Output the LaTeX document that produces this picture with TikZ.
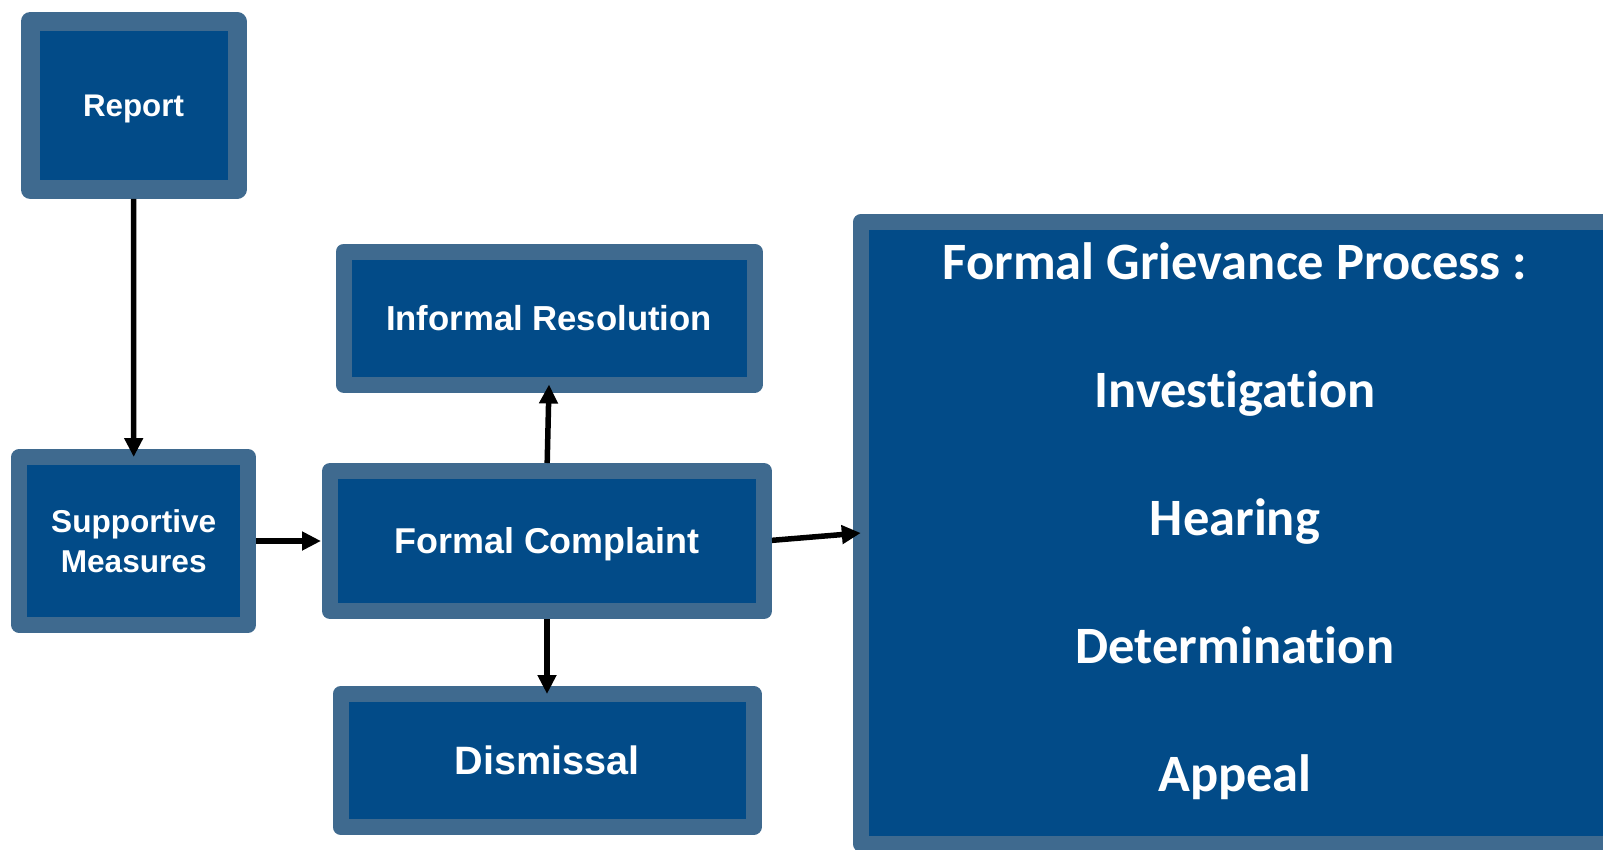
\documentclass[tikz,border=0pt]{standalone}
\usepackage{fontspec}
\setmainfont{Liberation Sans}
\newfontfamily\calibri[Ligatures=NoCommon]{Carlito}
\usetikzlibrary{arrows.meta}
\definecolor{bordo}{HTML}{3F6A8F}
\definecolor{blu}{HTML}{024B88}

\begin{document}
\begin{tikzpicture}[x=1pt,y=-1pt,
        box/.style={draw=bordo, fill=blu, line width=16pt, line join=round,
            inner sep=0pt, outer sep=0pt, text=white, align=center},
        fase/.style={text=white, anchor=base, inner sep=0pt,
            font=\calibri\bfseries\fontsize{52.5}{60}\selectfont},
        freccia/.style={line width=5.5pt, -{Triangle[length=19pt,width=18pt]}}]
            \useasboundingbox (0,0) rectangle (1603,849);
            \clip (0,0) rectangle (1603,849);
            \node[box, line width=19pt, minimum width=207pt, minimum height=168pt,
                font=\bfseries\fontsize{31.3}{38}\selectfont, text height=22.4pt, text depth=0pt]
                (rep) at (133.5,105.4) {Report};
            \node[box, minimum width=228.5pt, minimum height=168pt,
                font=\bfseries\fontsize{31.6}{39.7}\selectfont]
                (sup) at (133.7,541) {Supportive\\Measures};
            \node[box, minimum width=411pt, minimum height=133pt,
                font=\bfseries\fontsize{34.7}{42}\selectfont, text height=24.8pt, text depth=0pt]
                (inf) at (549,318) {Informal Resolution};
            \node[box, minimum width=434pt, minimum height=140pt,
                font=\bfseries\fontsize{35.9}{43}\selectfont, text height=25.7pt, text depth=0pt]
                (fc) at (547,541) {Formal Complaint};
            \node[box, minimum width=413pt, minimum height=133pt,
                font=\bfseries\fontsize{39.6}{47}\selectfont, text height=28.3pt, text depth=0pt]
                (dis) at (547,760.5) {Dismissal};
            \node[box, minimum width=764pt, minimum height=622pt] (fgp) at (1242.8,533) {};
            \foreach \t/\y [count=\i] in {Formal Grievance Process :/279.4, Investigation/407,
                    Hearing/535, Determination/663, Appeal/791}
                \node[fase] (g\i) at (1235,\y) {\t};
            \draw[freccia, shorten <=9.5pt] (rep.south) -- (sup.north);
            \draw[freccia, shorten <=8pt, shorten >=9pt] (sup.east) -- (fc.west);
            \draw[freccia, shorten <=8pt] (fc.north) -- (inf.south);
            \draw[freccia, shorten <=8pt] (fc.south) -- (dis.north);
            \draw[freccia, shorten <=8pt] (fc.east) -- (fgp.west);
        \end{tikzpicture}
\end{document}
